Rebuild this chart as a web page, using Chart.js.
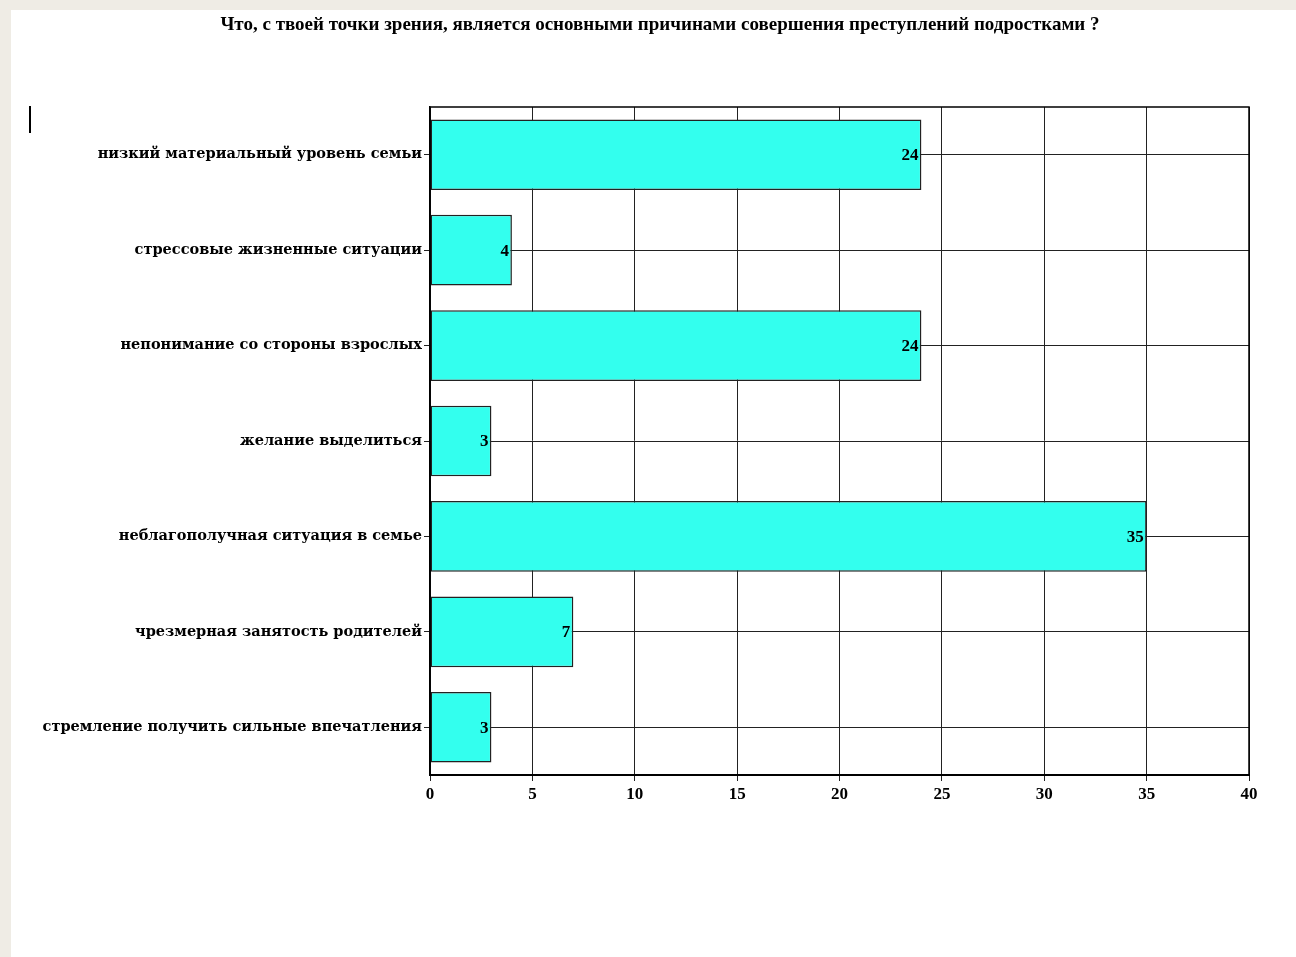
<!DOCTYPE html>
<html lang="ru">
<head>
  <meta charset="UTF-8">
  <title>Причины преступлений подростков</title>
  <script src="https://cdn.jsdelivr.net/npm/chart.js"></script>
  <style>
    html, body {
      margin: 0;
      padding: 0;
      background: #efece5;
      overflow: hidden;
    }
    .sheet {
      position: absolute;
      left: 11px;
      top: 10px;
      right: 0;
      bottom: 0;
      background: #fff;
    }
    .cursor {
      position: absolute;
      left: 29px;
      top: 106px;
      width: 2px;
      height: 27px;
      background: #000;
    }
    .wrap {
      position: absolute;
      left: 0;
      top: 0;
      width: 1296px;
      height: 957px;
    }
  </style>
</head>
<body>
  <div class="sheet"></div>
  <div class="cursor"></div>
  <div class="wrap"><canvas id="reasonsChart"></canvas></div>

  <script>
    const titleText = 'Что, с твоей точки зрения, является основными причинами совершения преступлений подростками ?';
    const reasons = [
      'низкий материальный уровень семьи',
      'стрессовые жизненные ситуации',
      'непонимание со стороны взрослых',
      'желание выделиться',
      'неблагополучная ситуация в семье',
      'чрезмерная занятость родителей',
      'стремление получить сильные впечатления'
    ];
    const answers = [24, 4, 24, 3, 35, 7, 3];
    const xTicks = [0, 5, 10, 15, 20, 25, 30, 35, 40];

    const serif = '"DejaVu Serif", "Liberation Serif", serif';
    const times = '"Liberation Serif", serif';

    // title sits off-centre in the original, so it is drawn by hand
    const pageTitle = {
      id: 'pageTitle',
      afterDraw(chart) {
        const ctx = chart.ctx;
        ctx.save();
        ctx.font = 'bold 19px ' + times;
        ctx.fillStyle = '#000';
        ctx.textAlign = 'center';
        ctx.textBaseline = 'middle';
        ctx.fillText(titleText, 660, 25);
        ctx.restore();
      }
    };

    // value written inside the end of each bar
    const valueLabels = {
      id: 'valueLabels',
      afterDatasetsDraw(chart) {
        const ctx = chart.ctx;
        const meta = chart.getDatasetMeta(0);
        ctx.save();
        ctx.font = 'bold 17px ' + times;
        ctx.fillStyle = '#000';
        ctx.textAlign = 'right';
        ctx.textBaseline = 'middle';
        meta.data.forEach((bar, i) => {
          ctx.fillText(answers[i], bar.x - 3, bar.y + 1);
        });
        ctx.restore();
      }
    };

    // closes the plot frame on top and right
    const frame = {
      id: 'frame',
      afterDatasetsDraw(chart) {
        const { ctx, chartArea: a } = chart;
        ctx.save();
        ctx.strokeStyle = '#000';
        ctx.lineWidth = 1.5;
        ctx.strokeRect(a.left, a.top, a.right - a.left, a.bottom - a.top);
        ctx.restore();
      }
    };

    new Chart(document.getElementById('reasonsChart'), {
      type: 'bar',
      data: {
        labels: reasons,
        datasets: [{
          data: answers,
          backgroundColor: '#33ffee',
          borderColor: '#222',
          borderWidth: 1.5,
          borderSkipped: false,
          categoryPercentage: 1,
          barPercentage: 0.74
        }]
      },
      plugins: [valueLabels, frame, pageTitle],
      options: {
        indexAxis: 'y',
        responsive: true,
        maintainAspectRatio: false,
        animation: false,
        layout: { padding: { left: 0, right: 47, top: 107, bottom: 0 } },
        plugins: {
          legend: { display: false },
          tooltip: { enabled: false },
          title: { display: false }
        },
        scales: {
          x: {
            min: 0,
            max: 40,
            afterBuildTicks(scale) {
              scale.ticks = xTicks.map(v => ({ value: v }));
            },
            afterFit(scale) { scale.height = 182; },
            grid: {
              color: '#222',
              lineWidth: 1,
              tickLength: 6,
              drawTicks: true
            },
            border: { color: '#000', width: 2 },
            ticks: {
              color: '#000',
              padding: 3,
              font: { family: times, size: 17, weight: 'bold' }
            }
          },
          y: {
            afterFit(scale) { scale.width = 430; },
            grid: {
              offset: false,
              color: '#222',
              lineWidth: 1,
              tickLength: 6
            },
            border: { color: '#000', width: 1.5 },
            ticks: {
              color: '#000',
              padding: 2,
              font: { family: serif, size: 14.5, weight: 'bold' }
            }
          }
        }
      }
    });
  </script>
</body>
</html>
